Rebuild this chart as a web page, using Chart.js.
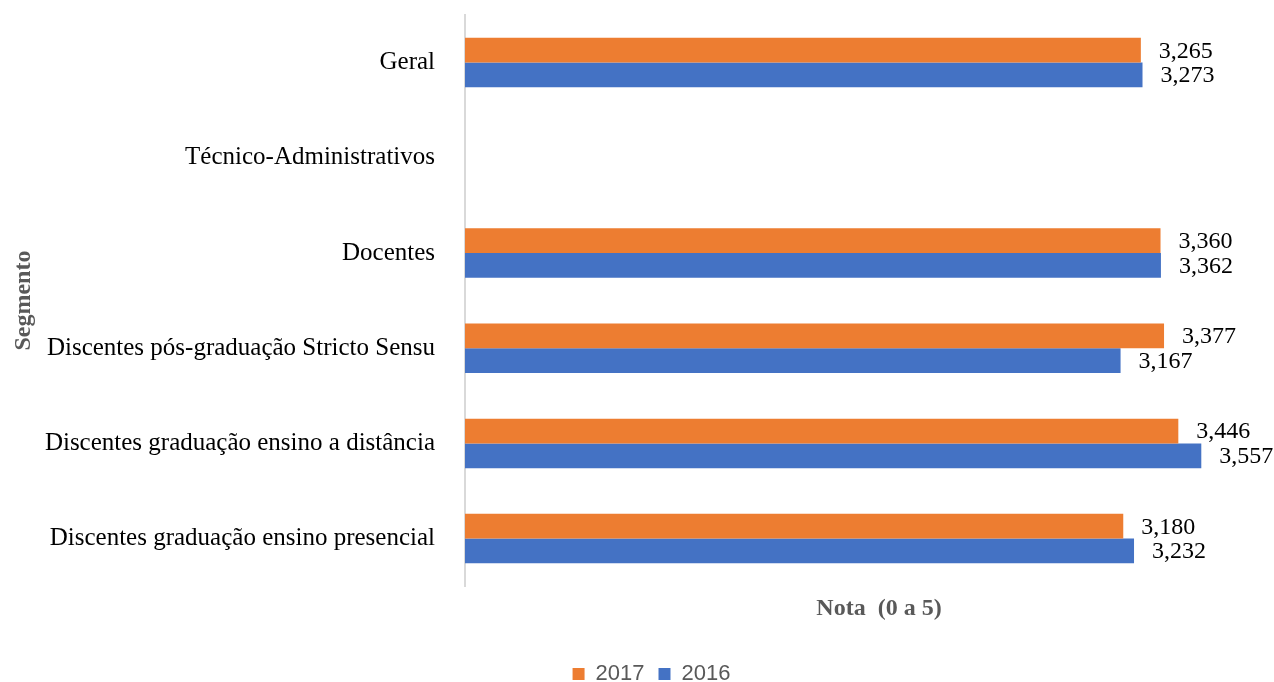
<!DOCTYPE html>
<html>
<head>
<meta charset="utf-8">
<script src="https://cdn.jsdelivr.net/npm/chart.js@4"></script>
<style>
    html, body { margin: 0; padding: 0; background: #fff; overflow: hidden; }
    #wrap { width: 1274px; height: 682px; overflow: hidden; }
</style>
</head>
<body>
<div id="wrap"><canvas id="chart" width="1300" height="682"></canvas></div>
<script>
// Segments, top to bottom
const segmentos = [
    "Geral",
    "Técnico-Administrativos",
    "Docentes",
    "Discentes pós-graduação Stricto Sensu",
    "Discentes graduação ensino a distância",
    "Discentes graduação ensino presencial",
];
const notas2017 = [3.265, null, 3.360, 3.377, 3.446, 3.180];
const notas2016 = [3.273, null, 3.362, 3.167, 3.557, 3.232];
const anos = ["2017", "2016"];

const serif = "'Liberation Serif', 'Times New Roman', serif";

// draw "3,265" style labels at the end of each bar
const valueLabels = {
    id: "valueLabels",
    afterDatasetsDraw(chart) {
        const ctx = chart.ctx;
        ctx.save();
        ctx.font = "24px " + serif;
        ctx.fillStyle = "#000";
        ctx.textAlign = "left";
        ctx.textBaseline = "middle";
        chart.data.datasets.forEach(function(ds, i) {
            const meta = chart.getDatasetMeta(i);
            meta.data.forEach(function(bar, j) {
                const v = ds.data[j];
                if (v === null || v === undefined) return;
                ctx.fillText(v.toFixed(3).replace(".", ","), bar.x + 18, bar.y + 1);
            });
        });
        ctx.restore();
    }
};

new Chart(document.getElementById("chart").getContext("2d"), {
    type: "bar",
    data: {
        labels: segmentos,
        datasets: [{
            label: anos[0],
            data: notas2017,
            backgroundColor: "#ED7D31",
            categoryPercentage: 0.52,
            barPercentage: 1.0,
        }, {
            label: anos[1],
            data: notas2016,
            backgroundColor: "#4472C4",
            categoryPercentage: 0.52,
            barPercentage: 1.0,
        }]
    },
    options: {
        indexAxis: "y",
        responsive: false,
        animation: false,
        layout: {padding: {top: 15, right: 7, left: 10, bottom: -13}},
        scales: {
            x: {
                min: 0,
                max: 4,
                grid: {display: false},
                border: {display: false},
                ticks: {display: false},
                title: {
                    display: true,
                    text: "Nota  (0 a 5)",
                    color: "#595959",
                    font: {family: serif, size: 24, weight: "bold"},
                    padding: {top: 0, bottom: 26},
                },
            },
            y: {
                grid: {display: false},
                border: {display: true, color: "#D9D9D9", width: 2},
                ticks: {
                    color: "#000",
                    padding: 22,
                    font: {family: serif, size: 25},
                },
                title: {
                    display: true,
                    text: "Segmento",
                    color: "#595959",
                    font: {family: serif, size: 24, weight: "bold"},
                    padding: {top: -1, bottom: 0},
                },
                afterFit(scale) {
                    // plot area starts at x=465
                    scale.width = 455;
                    scale.paddingTop = 0;
                    scale.paddingBottom = 0;
                },
            },
        },
        plugins: {
            legend: {
                position: "bottom",
                labels: {
                    boxWidth: 12,
                    boxHeight: 12,
                    padding: 14,
                    color: "#595959",
                    font: {family: "'Liberation Sans', Arial, sans-serif", size: 22},
                },
            },
            tooltip: {enabled: false},
        },
    },
    plugins: [valueLabels],
});
</script>
</body>
</html>
